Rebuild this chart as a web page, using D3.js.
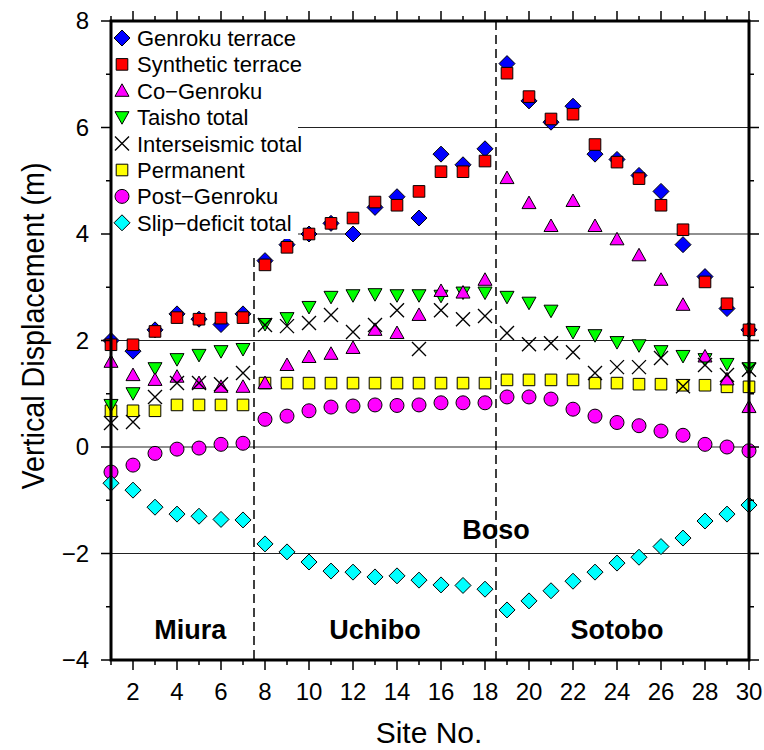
<!doctype html>
<html lang="en">
<head>
<meta charset="UTF-8">
<title>Vertical Displacement</title>
<script src="https://d3js.org/d3.v7.min.js"></script>
<style>
  body { margin: 0; background: #fff; }
  text { font-family: "Liberation Sans", Arial, sans-serif; }
</style>
</head>
<body>
<div id="chart-area"></div>
<script>
const sites = d3.range(1, 31);

const genroku   = [2.0, 1.8, 2.2, 2.5, 2.4, 2.3, 2.5, 3.5, 3.8, 4.0, 4.2, 4.0, 4.5, 4.7, 4.3,
                   5.5, 5.3, 5.6, 7.2, 6.5, 6.1, 6.4, 5.5, 5.4, 5.1, 4.8, 3.8, 3.2, 2.6, 2.2];
const synthetic = [1.92, 1.92, 2.17, 2.43, 2.4, 2.42, 2.43, 3.42, 3.75, 4.0, 4.2, 4.3, 4.6, 4.54, 4.8,
                   5.17, 5.17, 5.37, 7.02, 6.58, 6.16, 6.25, 5.68, 5.35, 5.04, 4.54, 4.08, 3.1, 2.69, 2.2];
const coGenroku = [1.6, 1.35, 1.26, 1.32, 1.2, 1.13, 1.13, 1.2, 1.54, 1.69, 1.75, 1.86, 2.2, 2.14, 2.48,
                   2.93, 2.9, 3.14, 5.05, 4.58, 4.15, 4.62, 4.15, 3.9, 3.6, 3.14, 2.67, 1.7, 1.27, 0.75];
const taisho    = [0.79, 1.01, 1.48, 1.65, 1.73, 1.8, 1.84, 2.31, 2.42, 2.63, 2.82, 2.85, 2.87, 2.85, 2.85,
                   2.84, 2.9, 2.9, 2.82, 2.71, 2.56, 2.16, 2.1, 1.97, 1.91, 1.8, 1.71, 1.65, 1.56, 1.48];
const interseis = [0.45, 0.47, 0.94, 1.2, 1.2, 1.18, 1.39, 2.29, 2.27, 2.33, 2.48, 2.16, 2.29, 2.57, 1.84,
                   2.57, 2.4, 2.46, 2.14, 1.93, 1.95, 1.78, 1.39, 1.5, 1.5, 1.67, 1.14, 1.54, 1.35, 1.45];
const permanent = [0.68, 0.68, 0.68, 0.79, 0.79, 0.79, 0.79, 1.2, 1.2, 1.2, 1.2, 1.2, 1.2, 1.2, 1.2,
                   1.2, 1.2, 1.2, 1.26, 1.26, 1.26, 1.26, 1.2, 1.2, 1.18, 1.18, 1.16, 1.16, 1.13, 1.13];
const postGenroku = [-0.47, -0.34, -0.12, -0.04, -0.02, 0.05, 0.07, 0.52, 0.58, 0.68, 0.75, 0.77, 0.79, 0.78, 0.79,
                   0.83, 0.83, 0.83, 0.94, 0.94, 0.9, 0.71, 0.58, 0.46, 0.4, 0.3, 0.22, 0.05, 0.0, -0.07];
const slipDeficit = [-0.68, -0.81, -1.13, -1.26, -1.3, -1.36, -1.37, -1.82, -1.97, -2.16, -2.33, -2.35, -2.44, -2.42, -2.5,
                   -2.59, -2.6, -2.67, -3.06, -2.89, -2.7, -2.52, -2.35, -2.18, -2.07, -1.87, -1.71, -1.39, -1.26, -1.09];

const seriesNames = ['Genroku terrace', 'Synthetic terrace', 'Co\u2212Genroku', 'Taisho total',
                     'Interseismic total', 'Permanent', 'Post\u2212Genroku', 'Slip\u2212deficit total'];

const xTicks = d3.range(2, 31, 2);
const yTicks = [-4, -2, 0, 2, 4, 6, 8];
const gridVals = [-2, 0, 2, 4, 6];

// region boundaries (site no.) and labels
const boundaries = [{ x: 7.5, top: 3.55 }, { x: 18.5, top: 8 }];
const regions = [
  { name: 'Miura',  x: 4.6,  y: -3.6 },
  { name: 'Uchibo', x: 13.0, y: -3.6 },
  { name: 'Sotobo', x: 24.0, y: -3.6 },
  { name: 'Boso',   x: 18.5, y: -1.73 }
];

const W = 764, H = 750;
const margin = { top: 21, right: 15, bottom: 90, left: 111 };
const iw = W - margin.left - margin.right;
const ih = H - margin.top - margin.bottom;

const svg = d3.select('#chart-area').append('svg')
    .attr('width', W).attr('height', H);
const g = svg.append('g').attr('transform', `translate(${margin.left},${margin.top})`);

const x = d3.scaleLinear().domain([1, 30]).range([0, iw]);
const y = d3.scaleLinear().domain([-4, 8]).range([ih, 0]);

// grid
g.selectAll('.grid').data(gridVals).enter().append('line')
    .attr('x1', 0).attr('x2', iw)
    .attr('y1', d => y(d)).attr('y2', d => y(d))
    .attr('stroke', '#222').attr('stroke-width', 1.2);

// region dashed lines
g.selectAll('.bnd').data(boundaries).enter().append('line')
    .attr('x1', d => x(d.x)).attr('x2', d => x(d.x))
    .attr('y1', d => y(d.top)).attr('y2', ih)
    .attr('stroke', '#000').attr('stroke-width', 1.5)
    .attr('stroke-dasharray', '9,5');

// markers
function shapePath(type) {
  switch (type) {
    case 'diamond': return 'M0,-8L8,0L0,8L-8,0Z';
    case 'square': return 'M-5.8,-5.8H5.8V5.8H-5.8Z';
    case 'up': return 'M0,-7L7,5.5L-7,5.5Z';
    case 'down': return 'M0,7L7,-5.5L-7,-5.5Z';
    case 'cross': return 'M-7,-7L7,7M-7,7L7,-7';
    case 'circle': return d3.symbol(d3.symbolCircle, 154)();
  }
}

const series = [
  { name: seriesNames[0], values: genroku,     type: 'diamond', fill: '#0000ff' },
  { name: seriesNames[1], values: synthetic,   type: 'square',  fill: '#ff0000' },
  { name: seriesNames[2], values: coGenroku,   type: 'up',      fill: '#ff00ff' },
  { name: seriesNames[3], values: taisho,      type: 'down',    fill: '#00ff00' },
  { name: seriesNames[4], values: interseis,   type: 'cross',   fill: 'none' },
  { name: seriesNames[5], values: permanent,   type: 'square',  fill: '#ffff00' },
  { name: seriesNames[6], values: postGenroku, type: 'circle',  fill: '#ff00ff' },
  { name: seriesNames[7], values: slipDeficit, type: 'diamond', fill: '#00ffff' }
];
const drawOrder = [0, 1, 5, 3, 2, 4, 6, 7];

function styleMark(sel, s) {
  sel.attr('d', shapePath(s.type))
     .attr('fill', s.fill)
     .attr('stroke', '#000')
     .attr('stroke-width', s.type === 'cross' ? 1.4 : 1);
}

drawOrder.forEach(i => {
  const s = series[i];
  g.append('g').selectAll('path').data(s.values).enter().append('path')
      .attr('transform', (d, j) => `translate(${x(sites[j])},${y(d)})`)
      .call(styleMark, s);
});

// legend
const leg = g.append('g');
leg.append('rect').attr('x', 1).attr('y', 1).attr('width', 186).attr('height', 217).attr('fill', '#fff');
series.forEach((s, i) => {
  const ly = 17 + i * 26.4;
  leg.append('path').attr('transform', `translate(11,${ly})`).call(styleMark, s);
  leg.append('text').attr('x', 26).attr('y', ly + 8)
      .attr('font-size', 22).text(s.name);
});

// region labels
g.selectAll('.reg').data(regions).enter().append('text')
    .attr('x', d => x(d.x)).attr('y', d => y(d.y))
    .attr('text-anchor', 'middle')
    .attr('font-size', 27).attr('font-weight', 'bold')
    .text(d => d.name);

// frame
g.append('rect').attr('width', iw).attr('height', ih)
    .attr('fill', 'none').attr('stroke', '#000').attr('stroke-width', 3);

// ticks on all sides
const minorX = d3.range(1, 31);
const minorY = d3.range(-4, 8.01, 1);
function ticks(vals, scale, horizontal, pos, dir) {
  g.append('g').selectAll('line').data(vals).enter().append('line')
      .each(function (d) {
        const len = d % 2 === 0 ? 10 : 5;
        const el = d3.select(this).attr('stroke', '#000').attr('stroke-width', 1.5);
        if (horizontal) {
          el.attr('x1', scale(d)).attr('x2', scale(d)).attr('y1', pos).attr('y2', pos + dir * len);
        } else {
          el.attr('y1', scale(d)).attr('y2', scale(d)).attr('x1', pos).attr('x2', pos + dir * len);
        }
      });
}
ticks(minorX, x, true, ih, 1);
ticks(minorX, x, true, 0, -1);
ticks(minorY, y, false, 0, -1);
ticks(minorY, y, false, iw, 1);

// tick labels
g.selectAll('.xl').data(xTicks).enter().append('text')
    .attr('x', d => x(d)).attr('y', ih + 40)
    .attr('text-anchor', 'middle').attr('font-size', 24)
    .text(d => d);
g.selectAll('.yl').data(yTicks).enter().append('text')
    .attr('x', -22).attr('y', d => y(d) + 8)
    .attr('text-anchor', 'end').attr('font-size', 24)
    .text(d => d < 0 ? '\u2212' + Math.abs(d) : d);

// axis titles
svg.append('text')
    .attr('transform', 'translate(44,326) rotate(-90)')
    .attr('text-anchor', 'middle').attr('font-size', 31)
    .attr('textLength', 327).attr('lengthAdjust', 'spacingAndGlyphs')
    .text('Vertical Displacement (m)');
svg.append('text')
    .attr('x', margin.left + iw / 2 - 1).attr('y', 743)
    .attr('text-anchor', 'middle').attr('font-size', 30)
    .text('Site No.');
</script>
</body>
</html>
